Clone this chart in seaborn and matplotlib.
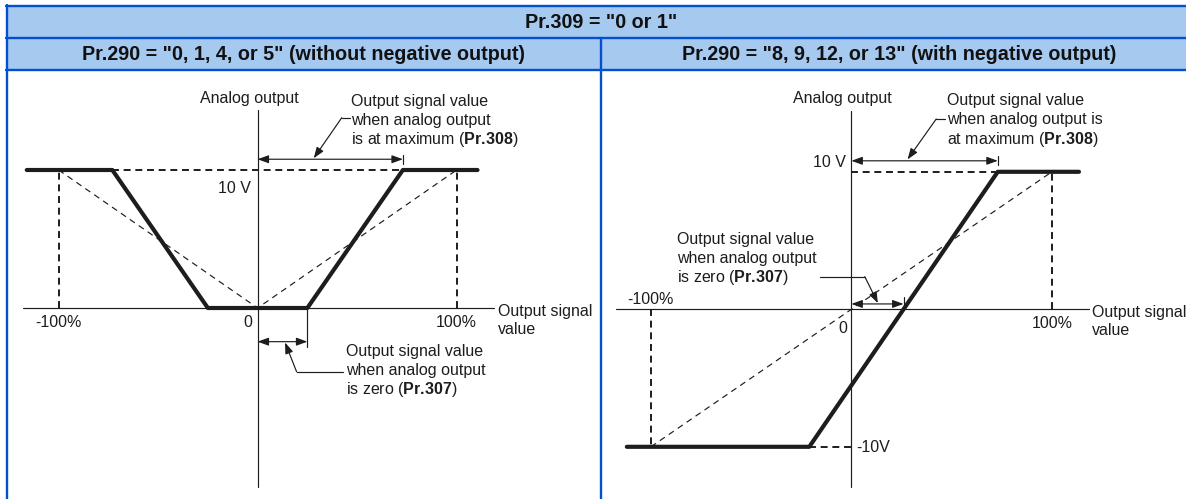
import matplotlib
matplotlib.use("Agg")
import matplotlib.pyplot as plt
from matplotlib.lines import Line2D
from matplotlib.patches import Rectangle
import seaborn as sns

# ---- values -------------------------------------------------------------
PCT_MARKS = [-100, 0, 100]            # output signal value marks (%)
PCT_LABELS = ["-100%", "0", "100%"]
V_FULL = 10                           # full-scale analog output (V)

# Pr.290 = 0, 1, 4, 5 : no negative output
LEFT_PR307 = 25                       # signal value at zero output (%)
LEFT_PR308 = 73                       # signal value at maximum output (%)
LEFT_CURVE_X = [-116, -73, -25, 25, 73, 110.5]
LEFT_CURVE_V = [10, 10, 0, 0, 10, 10]

# Pr.290 = 8, 9, 12, 13 : with negative output
RIGHT_PR307 = 26
RIGHT_PR308 = 73
RIGHT_CURVE_X = [-112, -21, 73, 113.5]
RIGHT_CURVE_V = [-10, -10, 10, 10]

TITLE_TOP = 'Pr.309 = "0 or 1"'
TITLE_LEFT = 'Pr.290 = "0, 1, 4, or 5" (without negative output)'
TITLE_RIGHT = 'Pr.290 = "8, 9, 12, or 13" (with negative output)'

TXT_Y = "Analog output"
TXT_X = "Output signal\nvalue"
# callouts, one string per line (parameter names set in bold)
PR308 = "$\\mathbf{Pr.\\!308}$"
PR307 = "$\\mathbf{Pr.\\!307}$"
TXT_MAX_L = ["Output signal value", "when analog output",
             "is at maximum (" + PR308 + ")"]
TXT_MAX_R = ["Output signal value", "when analog output is",
             "at maximum (" + PR308 + ")"]
TXT_ZERO = ["Output signal value", "when analog output",
            "is zero (" + PR307 + ")"]

# ---- style --------------------------------------------------------------
sns.set_theme(style="white")
plt.rcParams["font.family"] = ["Liberation Sans", "DejaVu Sans"]
plt.rcParams["mathtext.fontset"] = "custom"
plt.rcParams["mathtext.rm"] = "Liberation Sans"
plt.rcParams["mathtext.bf"] = "Liberation Sans:bold"
plt.rcParams["lines.scale_dashes"] = False

INK = "#1e1c1d"
HEAD_BG = "#a6c9f0"
RULE = "#0050d0"
FS = 11.5
FS_HEAD = 14.2

W, H = 1186, 499
fig = plt.figure(figsize=(W / 100, H / 100), dpi=100)
fig.patch.set_facecolor("white")


def fx(px):
    return px / W


def fy(py):
    return 1 - py / H


# ---- table header -------------------------------------------------------
fig.add_artist(Rectangle((fx(7), fy(70)), fx(1186) - fx(7), 64 / H,
                         transform=fig.transFigure, facecolor=HEAD_BG,
                         edgecolor="none", zorder=0))
for py in (6, 38, 70):
    fig.add_artist(Line2D([fx(6), fx(1186)], [fy(py), fy(py)],
                          transform=fig.transFigure, color=RULE, lw=1.7))
fig.add_artist(Line2D([fx(7), fx(7)], [fy(5), fy(499)],
                      transform=fig.transFigure, color=RULE, lw=1.7))
fig.add_artist(Line2D([fx(601), fx(601)], [fy(38), fy(499)],
                      transform=fig.transFigure, color=RULE, lw=1.7))

fig.text(fx(601), fy(22), TITLE_TOP, ha="center", va="center",
         fontsize=FS_HEAD, fontweight="bold", color="#111111")
fig.text(fx(304), fy(54), TITLE_LEFT, ha="center", va="center",
         fontsize=FS_HEAD, fontweight="bold", color="#111111")
fig.text(fx(899), fy(54), TITLE_RIGHT, ha="center", va="center",
         fontsize=FS_HEAD, fontweight="bold", color="#111111")


# ---- panels -------------------------------------------------------------
def panel(px_left, px_right, x0px, ppx, y0px, ppy):
    ax = fig.add_axes([fx(px_left), fy(499), (px_right - px_left) / W,
                       (499 - 71) / H])
    ax.set_xlim((px_left - x0px) / ppx, (px_right - x0px) / ppx)
    ax.set_ylim((y0px - 499) / ppy, (y0px - 71) / ppy)
    ax.axis("off")
    ax.patch.set_alpha(0)
    return ax


def dashed(ax, xs, ys, lw=1.4, dashes=(5, 3.4)):
    ax.plot(xs, ys, color=INK, lw=lw, dashes=dashes, zorder=2)


def thin(ax, xs, ys):
    ax.plot(xs, ys, color=INK, lw=0.85, dashes=(4.4, 3.4), zorder=2)


def span_arrow(ax, x_a, x_b, y):
    ax.annotate("", xy=(x_b, y), xytext=(x_a, y),
                arrowprops=dict(arrowstyle="<|-|>,head_length=0.55,head_width=0.2",
                                color=INK, lw=0.85, shrinkA=0, shrinkB=0))


def leader(ax, pts):
    # pts: text end -> bend -> arrow tip
    ax.plot([pts[0][0], pts[1][0]], [pts[0][1], pts[1][1]], color=INK, lw=0.85)
    ax.annotate("", xy=pts[2], xytext=pts[1],
                arrowprops=dict(arrowstyle="-|>,head_length=0.55,head_width=0.2",
                                color=INK, lw=0.85, shrinkA=0, shrinkB=0))


def txt(ax, x, y, s, ha="left", va="center"):
    ax.text(x, y, s, ha=ha, va=va, fontsize=FS, color=INK,
            linespacing=1.22, clip_on=False)


def callout(ax, x, y_first, dy, lines):
    # y_first is the baseline of the first line
    for i, s in enumerate(lines):
        ax.text(x, y_first - i * dy, s, ha="left", va="baseline",
                fontsize=FS, color=INK, clip_on=False)


# left panel
axL = panel(9, 600, 257.6, 1.99, 308, 13.8)
axL.plot([0, 0], [14.35, -12.95], color=INK, lw=0.85)
axL.plot([-117.9, 118.8], [0, 0], color=INK, lw=0.85)
dashed(axL, [-LEFT_PR308, LEFT_PR308], [V_FULL, V_FULL])
dashed(axL, [PCT_MARKS[0]] * 2, [0, V_FULL])
dashed(axL, [PCT_MARKS[2]] * 2, [0, V_FULL])
thin(axL, PCT_MARKS, [V_FULL, 0, V_FULL])
sns.lineplot(x=LEFT_CURVE_X, y=LEFT_CURVE_V, ax=axL, color=INK,
             linewidth=3.0, sort=False, estimator=None, zorder=3)

span_arrow(axL, 0, LEFT_PR308, 10.78)
axL.plot([LEFT_PR308] * 2, [10.45, 11.1], color=INK, lw=0.85)
leader(axL, [(46.4, 13.79), (42.3, 13.79), (28.2, 10.85)])
callout(axL, 47.1, 14.65, 1.377, TXT_MAX_L)

span_arrow(axL, 0, LEFT_PR307, -2.44)
axL.plot([LEFT_PR307] * 2, [0, -2.8], color=INK, lw=0.85)
leader(axL, [(42.7, -4.62), (19.6, -4.62), (13.8, -2.5)])
callout(axL, 44.6, -3.48, 1.38, TXT_ZERO)

txt(axL, -4.3, 15.2, TXT_Y, ha="center")
txt(axL, -3.5, 8.67, "10 V", ha="right")
txt(axL, PCT_MARKS[0], -1.07, PCT_LABELS[0], ha="center")
txt(axL, -2.6, -1.07, PCT_LABELS[1], ha="right")
txt(axL, PCT_MARKS[2], -1.07, PCT_LABELS[2], ha="center")
txt(axL, 121, -0.9, TXT_X)

# right panel
axR = panel(603, 1186, 851.4, 2.005, 309.3, 13.75)
axR.plot([0, 0], [14.44, -12.9], color=INK, lw=0.85)
axR.plot([-117.4, 118.7], [0, 0], color=INK, lw=0.85)
dashed(axR, [0, RIGHT_PR308], [V_FULL, V_FULL])
dashed(axR, [RIGHT_CURVE_X[1], 0], [-V_FULL, -V_FULL])
dashed(axR, [PCT_MARKS[2]] * 2, [0, V_FULL])
dashed(axR, [PCT_MARKS[0]] * 2, [0, -V_FULL])
thin(axR, [PCT_MARKS[0], PCT_MARKS[2]], [-V_FULL, V_FULL])
sns.lineplot(x=RIGHT_CURVE_X, y=RIGHT_CURVE_V, ax=axR, color=INK,
             linewidth=3.0, sort=False, estimator=None, zorder=3)

span_arrow(axR, 0, RIGHT_PR308, 10.8)
axR.plot([RIGHT_PR308] * 2, [10.5, 11.15], color=INK, lw=0.85)
leader(axR, [(46.5, 13.84), (42.3, 13.84), (28.0, 10.9)])
callout(axR, 47.5, 14.88, 1.43, TXT_MAX_R)

span_arrow(axR, 0, RIGHT_PR307, 0.39)
axR.plot([RIGHT_PR307] * 2, [0, 0.92], color=INK, lw=0.85)
leader(axR, [(-15.9, 2.37), (6.7, 2.37), (13.2, 0.45)])
callout(axR, -86.8, 4.76, 1.4, TXT_ZERO)

txt(axR, -4.4, 15.3, TXT_Y, ha="center")
txt(axR, -2.9, 10.7, "10 V", ha="right")
txt(axR, 2.3, -10.07, "-10V")
txt(axR, PCT_MARKS[0], 0.73, PCT_LABELS[0], ha="center")
txt(axR, -2.1, -1.38, PCT_LABELS[1], ha="right")
txt(axR, PCT_MARKS[2], -1.02, PCT_LABELS[2], ha="center")
txt(axR, 120.0, -0.87, TXT_X)

fig.savefig("out.png", dpi=100)
